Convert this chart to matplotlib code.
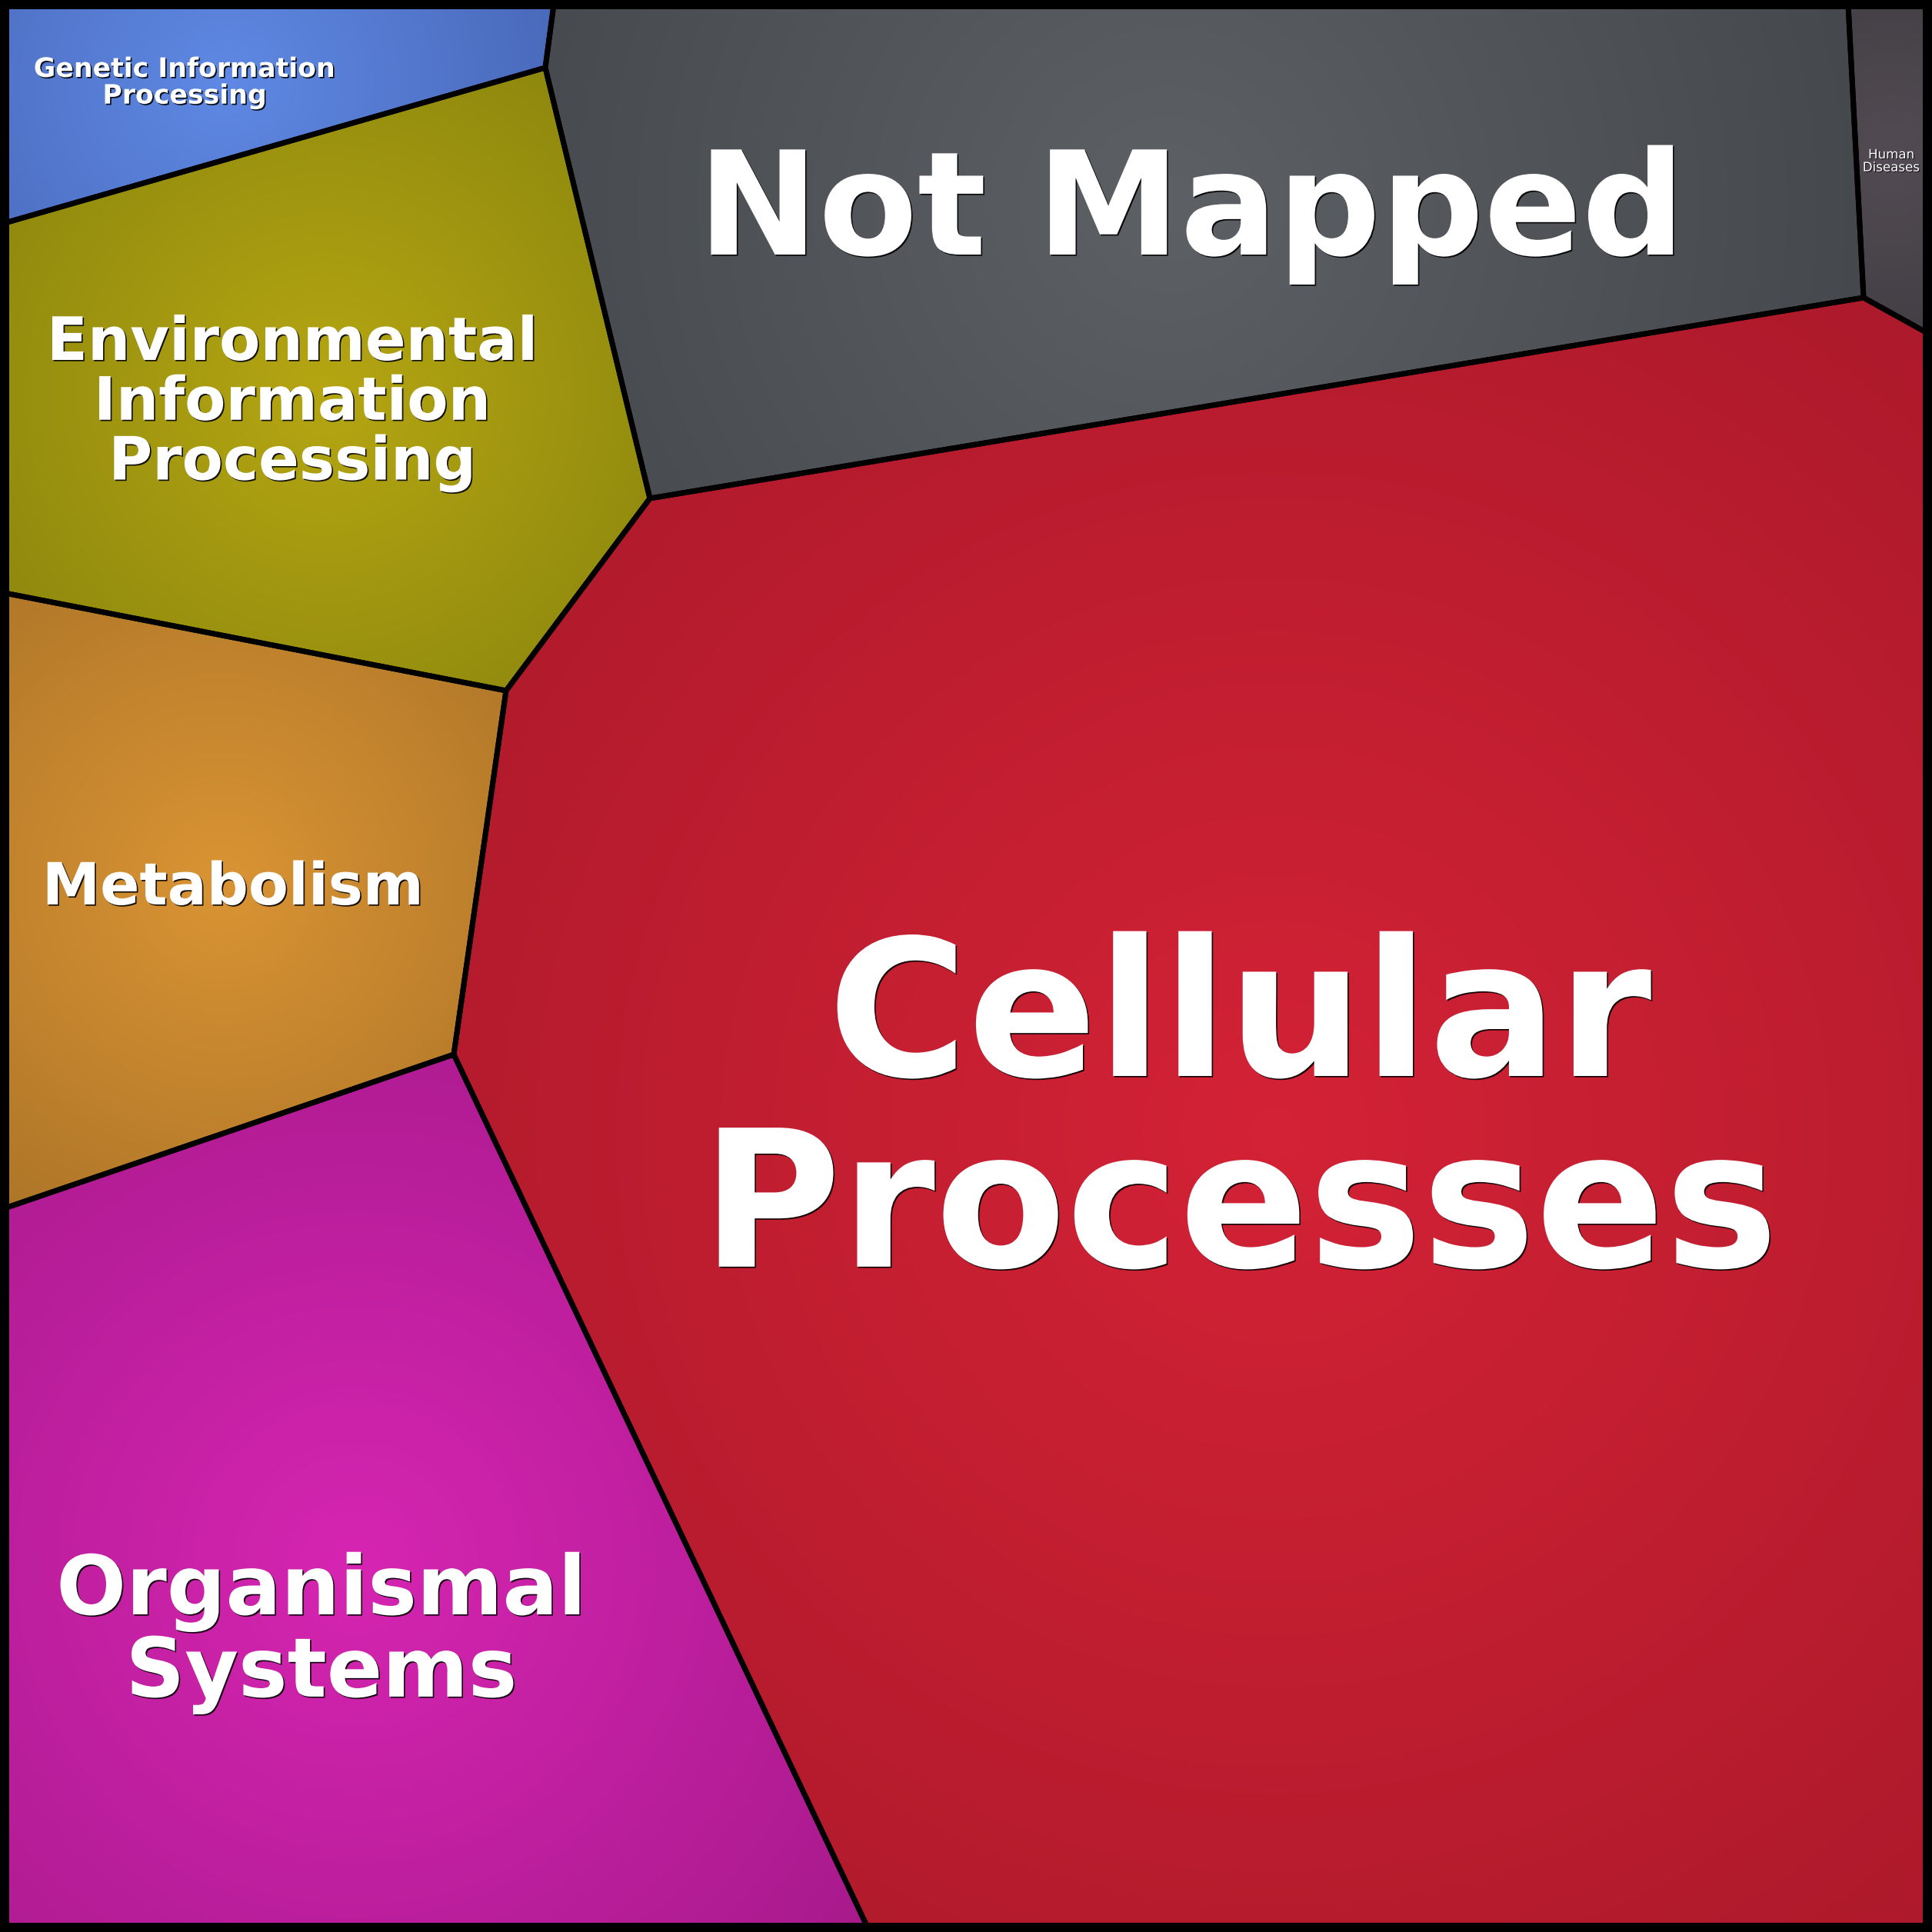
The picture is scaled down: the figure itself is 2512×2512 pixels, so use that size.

# ==============================================================================
# KEGG category Voronoi treemap - static recreation
# ==============================================================================

import numpy as np
import matplotlib
matplotlib.use("Agg")
import matplotlib.pyplot as plt
from matplotlib.patches import Polygon, Rectangle
import matplotlib.patheffects as pe

# 1. Data: cell names, label text and cell outlines (canvas pixels, y down)
categories = ["Genetic Information Processing", "Environmental Information Processing",
              "Metabolism", "Organismal Systems", "Cellular Processes",
              "Not Mapped", "Human Diseases"]
labels = ["Genetic Information\nProcessing", "Environmental\nInformation\nProcessing",
          "Metabolism", "Organismal\nSystems", "Cellular\nProcesses",
          "Not Mapped", "Human\nDiseases"]

cell_x = [
    [6, 720, 709, 6],
    [6, 709, 845, 658, 6],
    [6, 658, 590, 6],
    [6, 590, 1128, 6],
    [845, 2423, 2506, 2506, 1128, 590, 658],
    [720, 2403, 2423, 845, 709],
    [2403, 2506, 2506, 2423],
]
cell_y = [
    [6, 6, 88, 290],
    [290, 88, 648, 898, 771],
    [771, 898, 1371, 1571],
    [1571, 1371, 2506, 2506],
    [648, 387, 433, 2506, 2506, 1371, 898],
    [6, 6, 387, 648, 88],
    [6, 6, 433, 387],
]

# radial gradient colours: centre -> rim
color_center = ["#5f89e4", "#b5a612", "#da9434", "#d625b2", "#d42236", "#5d6165", "#534b53"]
color_edge = ["#4a6abb", "#8e880e", "#ae7628", "#a81a8c", "#ad1a2b", "#45484d", "#433f45"]

# label placement: centre x, first baseline y, font size, weight
label_x = [240, 380, 303, 418, 1612, 1549, 2459]
label_y = [100, 468, 1176, 2099, 1399, 331, 206]
label_size = [25, 56, 54.5, 77, 178.5, 135, 12]
label_weight = ["bold", "bold", "bold", "bold", "bold", "bold", "normal"]

W = 2512


def hex_rgb(h):
    h = h.lstrip("#")
    return np.array([int(h[i:i + 2], 16) / 255.0 for i in (0, 2, 4)])


def centroid(xs, ys):
    x = np.asarray(xs, float)
    y = np.asarray(ys, float)
    x1, y1 = np.roll(x, -1), np.roll(y, -1)
    cross = x * y1 - x1 * y
    a = cross.sum() / 2.0
    cx = ((x + x1) * cross).sum() / (6 * a)
    cy = ((y + y1) * cross).sum() / (6 * a)
    return cx, cy


def draw_treemap():
    fig = plt.figure(figsize=(25.12, 25.12), dpi=100, facecolor="black")
    ax = fig.add_axes([0, 0, 1, 1])
    ax.set_xlim(0, W)
    ax.set_ylim(W, 0)
    ax.axis("off")

    # 2. Cells with radial gradient fill
    for i in range(len(categories)):
        xs, ys = cell_x[i], cell_y[i]
        cx, cy = centroid(xs, ys)
        r = max(np.hypot(np.array(xs) - cx, np.array(ys) - cy))
        x0, x1 = min(xs), max(xs)
        y0, y1 = min(ys), max(ys)
        gx = np.linspace(x0, x1, max(2, int((x1 - x0) / 3)))
        gy = np.linspace(y0, y1, max(2, int((y1 - y0) / 3)))
        X, Y = np.meshgrid(gx, gy)
        t = np.clip(np.hypot(X - cx, Y - cy) / r, 0, 1)[..., None]
        c0, c1 = hex_rgb(color_center[i]), hex_rgb(color_edge[i])
        img = c0 + (c1 - c0) * t
        poly = Polygon(list(zip(xs, ys)), closed=True, facecolor="none",
                       edgecolor="black", linewidth=5, joinstyle="round", zorder=3)
        ax.add_patch(poly)
        im = ax.imshow(img, extent=(x0, x1, y1, y0), origin="upper",
                       interpolation="bilinear", zorder=2, aspect="auto")
        im.set_clip_path(poly)

    # outer frame
    ax.add_patch(Rectangle((6, 6), W - 12, W - 12, facecolor="none",
                           edgecolor="black", linewidth=8.6, zorder=4))

    # 3. Labels, one line at a time so the line gap matches
    for i in range(len(categories)):
        size = label_size[i]
        em = size * 100 / 72.0
        off = 1.2 if size > 20 else 0.7
        effects = [pe.withSimplePatchShadow(offset=(off, -off), shadow_rgbFace="black", alpha=0.9)]
        for k, line in enumerate(labels[i].split("\n")):
            ax.text(label_x[i], label_y[i] + k * 1.0 * em, line, ha="center", va="baseline",
                    fontsize=size, fontweight=label_weight[i], color="white",
                    family="DejaVu Sans", zorder=5, path_effects=effects)

    fig.savefig("out.png", dpi=100, facecolor="black")
    plt.close(fig)


if __name__ == "__main__":
    draw_treemap()
